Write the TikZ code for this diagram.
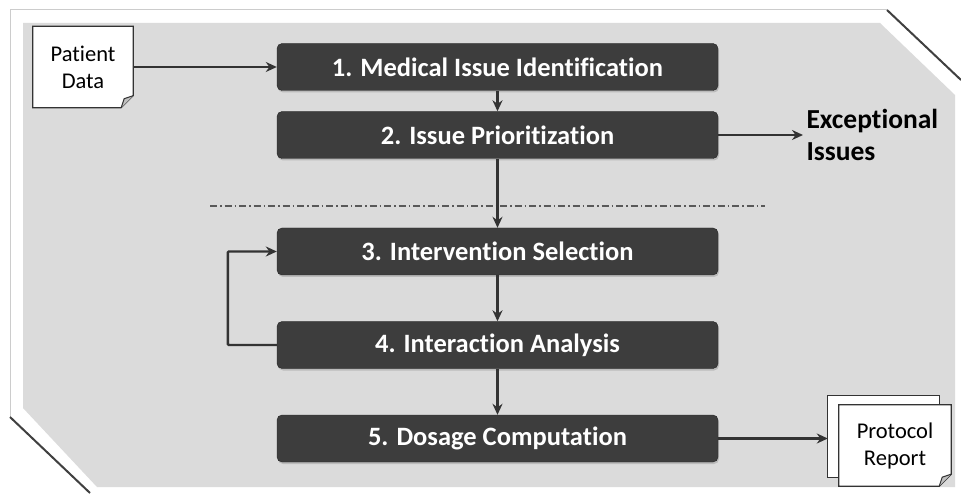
\documentclass[tikz,border=0pt]{standalone}
\usepackage{fontspec}
\setmainfont{Carlito}[Ligatures=NoCommon]
\usepackage{tikz}
\usetikzlibrary{arrows.meta,shadows,calc}

\tikzset{
  stagebox/.style={draw=black!85, fill=black!76, rounded corners=5pt, text=white,
    font=\bfseries\fontsize{26.5}{30}\selectfont, minimum width=441pt, minimum height=47pt,
    drop shadow={opacity=0.35, shadow xshift=1pt, shadow yshift=-2pt}},
  docnode/.style={minimum width=#1, minimum height=81pt, align=center,
    font=\fontsize{22.5}{27}\selectfont, inner sep=0pt},
  flow/.style={draw=black!80, line width=2.4pt, -{Stealth[length=11pt,width=10pt]}},
}

\begin{document}
\begin{tikzpicture}[x=1pt,y=1pt]
\useasboundingbox (0,0) rectangle (961,493);
% frame
\fill[white] (10,483) -- (887,483) -- (961,413) -- (961,0) -- (90,0) -- (10,76) -- cycle;
\draw[black!20, line width=1pt] (10,76) -- (10,483) -- (887,483);
\draw[black!75, line width=2pt] (887,483) -- (961,413);
\draw[black!75, line width=2pt] (10,76) -- (90,0);
\fill[black!14] (23,470) -- (880,470) -- (955,398) -- (955,6) -- (97,6) -- (23,85) -- cycle;

% stages
\node[stagebox] (s1) at (497.5,426) {1. Medical Issue Identification};
\node[stagebox] (s2) at (497.5,358) {2. Issue Prioritization};
\node[stagebox] (s3) at (497.5,241.5) {3. Intervention Selection};
\node[stagebox] (s4) at (497.5,148) {4. Interaction Analysis};
\node[stagebox] (s5) at (497.5,54.5) {5. Dosage Computation};

\draw[black!65, line width=1.2pt, dash pattern=on 7pt off 3pt on 1.5pt off 3pt] (210,287) -- (765,287);

% documents
\node[docnode=100pt] (pdata) at (83,426) {Patient\\Data};
\draw[black!80, line width=1.2pt, fill=white] (pdata.north west) -- (pdata.north east)
  -- ($(pdata.south east)+(0,12)$) -- ($(pdata.south east)+(-12,0)$) -- (pdata.south west) -- cycle;
\draw[black!80, line width=1pt, fill=black!25] ($(pdata.south east)+(0,12)$) -- ($(pdata.south east)+(-9,9)$) -- ($(pdata.south east)+(-12,0)$);
\node[docnode=100pt] at (pdata) {Patient\\Data};

\node[docnode=111pt] (rback) at (883.5,56.5) {};
\draw[black!80, line width=1.2pt, fill=white] (rback.north west) rectangle (rback.south east);
\node[docnode=112pt] (report) at (895,47.5) {};
\draw[black!80, line width=1.2pt, fill=white] (report.north west) -- (report.north east)
  -- ($(report.south east)+(0,12)$) -- ($(report.south east)+(-12,0)$) -- (report.south west) -- cycle;
\draw[black!80, line width=1pt, fill=black!25] ($(report.south east)+(0,12)$) -- ($(report.south east)+(-9,9)$) -- ($(report.south east)+(-12,0)$);
\node[docnode=112pt] at (report) {Protocol\\Report};

\node[anchor=west, align=left, font=\bfseries\fontsize{27.5}{32}\selectfont] (exc) at (803,358) {Exceptional\\Issues};

% connectors
\draw[flow] (pdata.east) -- (s1.west);
\draw[flow] (s1) -- (s2);
\draw[flow] (s2) -- (s3);
\draw[flow] (s3) -- (s4);
\draw[flow] (s4) -- (s5);
\draw[flow] (s2.east) -- (exc.west);
\draw[flow] (s5.east) -- (s5.east -| rback.west);
\draw[flow, rounded corners=1pt] (s4.west) -- ++(-49,0) |- (s3.west);
\end{tikzpicture}
\end{document}
